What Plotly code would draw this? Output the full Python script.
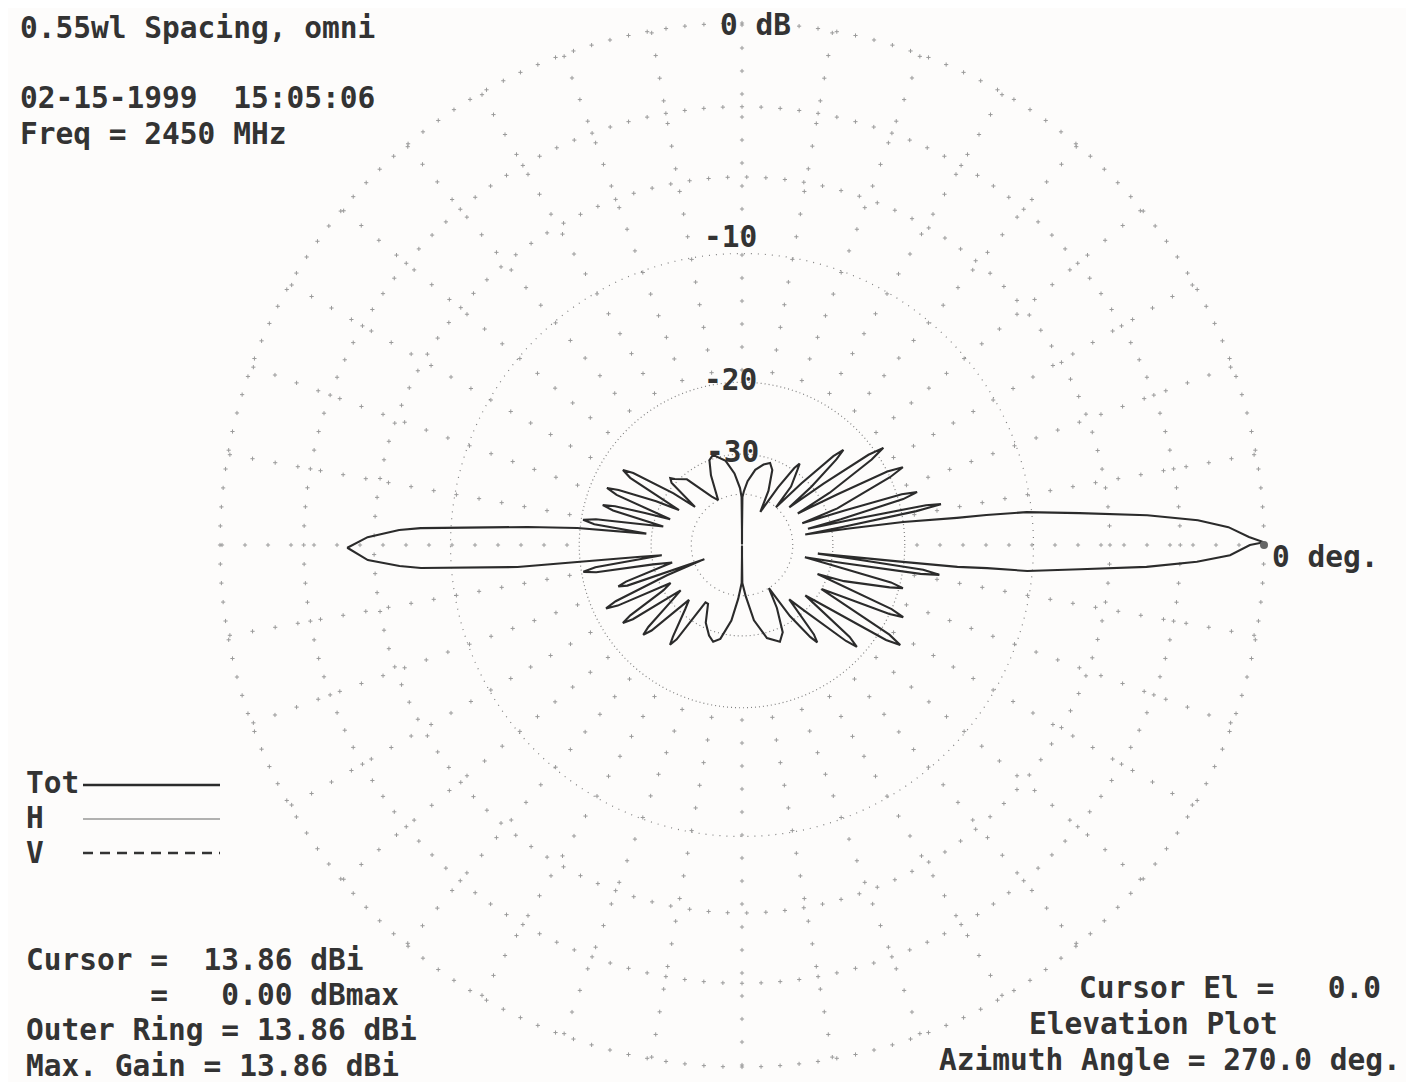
import numpy as np
import plotly.graph_objects as go

# ---------------- data ----------------
# Elevation pattern, total field (elevation angle in degrees, gain in dB relative to max)
TOT_ELEV_DEG = [
    0.3, 0.9, 2.1, 3.1, 4.2, 5.4, 6.6, 7.0, 7.2, 8.1, 8.8, 9.4,
    10.2, 11.0, 11.6, 12.2, 13.0, 13.8,
    14.6, 15.9, 16.8, 17.6, 18.6, 19.8,
    21.0, 24.6, 25.8, 26.8, 28.0, 29.5,
    30.8, 33.4, 34.5, 35.5, 37.0, 38.5,
    40.0, 42.2, 43.2, 44.2, 46.0, 48.0,
    50.0, 53.5, 54.7, 55.8, 58.0, 61.0,
    64, 68, 71.1, 75, 80, 85, 88, 89.5, 89.9, 90.0,
    90.1, 90.5, 92, 96, 101, 107.9, 111, 114, 118,
    122, 130, 135.5, 137, 138.5, 141,
    143, 146.5, 147.8, 149.0, 151,
    153, 156.0, 157.1, 158.2, 160.3,
    161.8, 163.0, 164, 165.0, 166.8,
    168.3, 170.0, 171, 172, 173.2,
    174.1, 175.2, 177.0, 177.5, 178.8, 180.4, 182.3, 183.5, 184.1, 185.6, 185.9, 186.6,
    187.3, 188.6, 189.6, 190.6, 192.3,
    194, 197.5, 198.5, 199.5, 200.6,
    202, 204.0, 205, 206.0, 208,
    210, 212.2, 213.2, 214.2, 216.5,
    218.5, 221.2, 222.3, 223.4, 226,
    228.5, 233.0, 234.2, 235.3, 237.5,
    240, 245, 250, 253.4, 257, 262, 266, 269.5, 269.9, 270,
    270.1, 270.5, 274, 279, 285, 291.4, 295, 299, 302,
    304, 306.6, 307.7, 308.8, 311,
    313.5, 317.3, 318.4, 319.5, 321.5,
    323.5, 326.6, 327.7, 328.7, 331,
    332.5, 334.9, 335.9, 336.8, 339,
    340.5, 344.0, 345, 345.9, 347.5, 349.0,
    349.8, 350.8, 351.4, 352.2, 353.0,
    353.5, 354.0, 354.2, 354.6, 354.8, 355.9, 356.9, 357.9, 358.8, 360.0, 360.3,
]
TOT_GAIN_DB = [
    0.0, -0.5, -1.2, -2.3, -4.3, -7.4, -10.3, -12.9, -15.1, -20.0, -27.0, -36.0,
    -28, -18.5, -16.2, -17.5, -26, -35,
    -28, -19.5, -18.0, -19.5, -27, -36,
    -28, -20.0, -18.4, -20, -27, -36,
    -28, -20.8, -19.1, -20.8, -28, -37,
    -30, -24.2, -22.7, -24.2, -31, -40,
    -33, -29.6, -28.4, -29.6, -35, -45,
    -37, -32, -30.8, -31.5, -33, -36, -39, -41, -60, -120,
    -60, -41, -38, -34, -31, -29.3, -30, -33, -40,
    -38, -31, -29.4, -28.7, -29.4, -37,
    -31, -23.8, -22.5, -23.8, -34,
    -29, -23.2, -21.8, -23.2, -33,
    -28, -23.5, -22, -23.4, -32,
    -28, -21.6, -20.2, -21.5, -29,
    -19.7, -15.2, -8.3, -7.2, -5.7, -4.8, -5.7, -7.2, -8.3, -14.4, -19.7, -28,
    -32, -21.6, -20.2, -21.6, -30,
    -34, -25, -23.8, -25, -44,
    -32, -22.8, -21.4, -22.8, -32,
    -30, -23.6, -22.3, -23.6, -33,
    -30, -24.6, -23.4, -24.6, -33,
    -31, -26.0, -24.8, -26.0, -35,
    -35, -31, -29, -28.2, -29, -33, -39, -45, -65, -120,
    -65, -45, -40, -33, -29, -27.7, -29, -34, -40,
    -31, -26.0, -24.8, -26.0, -34,
    -30, -22.4, -21, -22.4, -32,
    -28, -19.0, -17.6, -19.0, -30,
    -27, -20.0, -18.6, -20.0, -32,
    -27, -21.0, -19.6, -21.0, -30, -36,
    -28, -18.2, -16.5, -18.0, -27,
    -33, -20.1, -15.1, -12.9, -10.3, -7.4, -4.35, -2.35, -1.15, -0.47, 0.0,
]

RING_DB_SPARSE = [0, -3, -6]          # outer rings, sparse dots
RING_DB_DOTTED = [-10, -20, -30, -40]  # inner rings, dotted
SPOKE_STEP_DEG = 10
RING_LABELS = ["0 dB", "-10", "-20", "-30"]
CURSOR_ELEV_DEG = [0.0]
CURSOR_GAIN_DB = [0.0]

TITLE_LINES = ["0.55wl Spacing, omni", "02-15-1999  15:05:06", "Freq = 2450 MHz"]
INFO_LEFT = ["Cursor =  13.86 dBi", "       =   0.00 dBmax", "Outer Ring = 13.86 dBi", "Max. Gain = 13.86 dBi"]
INFO_RIGHT = ["Cursor El =   0.0", "Elevation Plot", "Azimuth Angle = 270.0 deg."]
LEGEND_NAMES = ["Tot", "H", "V"]


def arrl(db):
    """ARRL log scale: radius shrinks by 0.89 every 2 dB."""
    return np.power(0.89, -np.asarray(db, dtype=float) / 2.0)


OFF = 8                      # page body margin
W, H = 1414 - 2 * OFF, 1090 - 2 * OFF
CX, CY, R = 742 - OFF, 545 - OFF, 522
FONT = "DejaVu Sans Mono"
TXT = "#333333"
GRID = "#9a9a9a"

fig = go.Figure()

# sparse dotted outer rings (markers)
for db in RING_DB_SPARSE:
    rr = float(arrl(db))
    n = int(2 * np.pi * rr * R / 19)
    th = np.linspace(0, 360, n, endpoint=False)
    fig.add_trace(go.Scatterpolar(r=np.full(n, rr), theta=th, mode="markers",
                                  marker=dict(size=3, color=GRID, symbol="cross-thin",
                                              line=dict(width=1, color=GRID)),
                                  hoverinfo="skip", showlegend=False))
# spokes
for a in np.arange(0, 360, SPOKE_STEP_DEG):
    rs = np.arange(175, R, 23) / R
    fig.add_trace(go.Scatterpolar(r=rs, theta=np.full(len(rs), a), mode="markers",
                                  marker=dict(size=3, color=GRID, symbol="cross-thin",
                                              line=dict(width=1, color=GRID)),
                                  hoverinfo="skip", showlegend=False))
# dotted inner rings
for db, dash in zip(RING_DB_DOTTED, ["1px,6px", "1px,3px", "1px,3px", "1px,4px"]):
    th = np.linspace(0, 360, 361)
    fig.add_trace(go.Scatterpolar(r=np.full(len(th), float(arrl(db))), theta=th, mode="lines",
                                  line=dict(color="#808080", width=1.2, dash=dash),
                                  hoverinfo="skip", showlegend=False))

# pattern
fig.add_trace(go.Scatterpolar(r=arrl(TOT_GAIN_DB), theta=TOT_ELEV_DEG, mode="lines",
                              line=dict(color="#2b2b2b", width=2.1),
                              name="Tot", showlegend=False))
# cursor
fig.add_trace(go.Scatterpolar(r=arrl(CURSOR_GAIN_DB), theta=CURSOR_ELEV_DEG, mode="markers",
                              marker=dict(size=8, color="#666666"),
                              showlegend=False, hoverinfo="skip"))

fig.update_layout(
    width=W, height=H, autosize=False,
    margin=dict(l=0, r=0, t=0, b=0),
    paper_bgcolor="#fdfcfb", plot_bgcolor="#fdfcfb",
    showlegend=False,
    polar=dict(
        domain=dict(x=[(CX - R) / W, (CX + R) / W], y=[(H - CY - R) / H, (H - CY + R) / H]),
        bgcolor="rgba(0,0,0,0)",
        radialaxis=dict(range=[0, 1], visible=False, showgrid=False),
        angularaxis=dict(visible=False, showgrid=False, rotation=0, direction="counterclockwise"),
    ),
)


def px(x, y):
    """reference-screen pixel -> paper coords"""
    return (x - OFF) / W, 1 - (y - OFF) / H


def note(text, x, y, anchor="left", size=29.5):
    xx, yy = px(x, y)
    fig.add_annotation(text=text.replace(" ", "\u00a0"), x=xx, y=yy, xref="paper", yref="paper",
                       xanchor=anchor, yanchor="middle", showarrow=False, borderpad=0,
                       font=dict(family=FONT, size=size, color=TXT, weight="bold"))


note(TITLE_LINES[0], 19, 28)
note(TITLE_LINES[1], 19, 98)
note(TITLE_LINES[2], 19, 134)

for lab, (x, y) in zip(RING_LABELS, [(755, 25), (730, 237), (730, 380), (732, 452)]):
    note(lab, x, y, anchor="center")
note("0 deg.", 1271, 557)

for lab, y in zip(LEGEND_NAMES, [783, 818, 853]):
    note(lab, 25, y)
# legend line samples
for (y, w, dash, col) in [(785, 2.5, "solid", "#2b2b2b"), (819, 1.2, "solid", "#666666"),
                          (853, 2.5, "10px,7px", "#333333")]:
    x0, yy = px(83, y)
    x1, _ = px(220, y)
    fig.add_shape(type="line", xref="paper", yref="paper", x0=x0, x1=x1, y0=yy, y1=yy,
                  line=dict(color=col, width=w, dash=dash))

for lab, y in zip(INFO_LEFT, [960, 995, 1030, 1066]):
    note(lab, 25, y)
for lab, (x, y) in zip(INFO_RIGHT, [(1078, 988), (1028, 1024), (938, 1060)]):
    note(lab, x, y)

fig.write_html("out.html")
